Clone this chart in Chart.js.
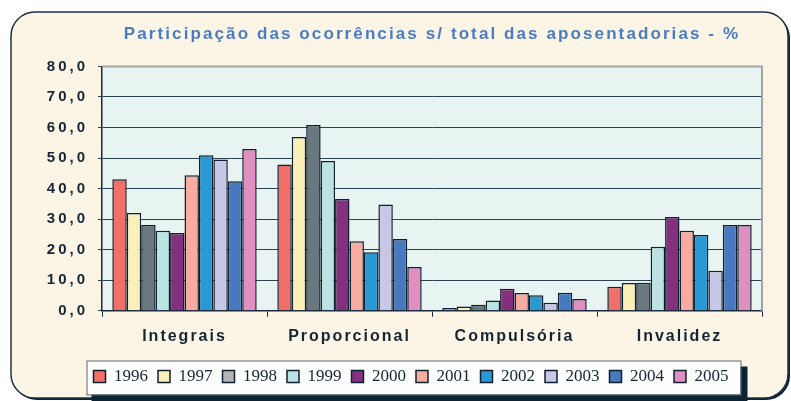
<!DOCTYPE html>
<html>
<head>
<meta charset="utf-8">
<script src="https://cdn.jsdelivr.net/npm/chart.js@4"></script>
<style>
  html, body { margin: 0; padding: 0; background: #ffffff; }
</style>
</head>
<body>
<canvas id="chart" width="791" height="401"></canvas>
<script>
// data (% of total retirements)
const categories = ['Integrais', 'Proporcional', 'Compulsória', 'Invalidez'];
const years = ['1996', '1997', '1998', '1999', '2000', '2001', '2002', '2003', '2004', '2005'];
const values1996 = [43.1, 47.9, 0.9, 7.9];
const values1997 = [32.0, 56.9, 1.4, 9.1];
const values1998 = [28.1, 60.8, 2.0, 9.2];
const values1999 = [26.2, 49.0, 3.4, 21.0];
const values2000 = [25.5, 36.6, 7.2, 30.7];
const values2001 = [44.4, 22.8, 5.8, 26.2];
const values2002 = [50.9, 19.2, 5.1, 24.8];
const values2003 = [49.5, 34.8, 2.6, 13.1];
const values2004 = [42.4, 23.5, 5.9, 28.1];
const values2005 = [53.0, 14.3, 3.9, 28.1];
const yTickLabels = ['0,0', '10,0', '20,0', '30,0', '40,0', '50,0', '60,0', '70,0', '80,0'];
const titleText = 'Participação das ocorrências s/ total das aposentadorias - %';

const seriesValues = [values1996, values1997, values1998, values1999, values2000,
  values2001, values2002, values2003, values2004, values2005];
const barColors = ['#f07068', '#fbf0b8', '#6b7880', '#bce2e4', '#85307f',
  '#f8aca0', '#2999d3', '#c8c8e6', '#4878bf', '#e090c0'];
// the legend swatch for 1998 is a lighter grey than its bars
const swatchColors = barColors.slice();
swatchColors[2] = '#b4b4b8';

const sansBold = '"Liberation Sans", Arial, sans-serif';
const ink = '#152535';

// letter spacing for the bold Arial-like texts, and no clipping of the y labels
const drawLabels = Chart.Scale.prototype.drawLabels;
Chart.Scale.prototype.drawLabels = function (area) {
  this.ctx.save();
  this.ctx.letterSpacing = this.axis === 'y' ? '3px' : '2px';
  drawLabels.call(this, area);
  this.ctx.restore();
};
Chart.Scale.prototype._computeLabelArea = function () { return undefined; };
const drawTitle = Chart.Title._element.prototype.draw;
Chart.Title._element.prototype.draw = function () {
  this.ctx.save();
  this.ctx.letterSpacing = '2.1px';
  drawTitle.call(this);
  this.ctx.restore();
};

const frame = {
  id: 'frame',
  beforeDraw(chart) {
    const { ctx, chartArea: a } = chart;
    ctx.save();
    // outer rounded panel
    ctx.fillStyle = '#0f2233';
    ctx.beginPath();
    ctx.roundRect(13, 14, 777, 386, 24);
    ctx.fill();
    ctx.fillStyle = '#fcf5e6';
    ctx.strokeStyle = '#1a3346';
    ctx.lineWidth = 1.5;
    ctx.beginPath();
    ctx.roundRect(11, 12, 777, 386, 24);
    ctx.fill();
    ctx.stroke();
    // plot background
    ctx.fillStyle = '#e8f4f1';
    ctx.fillRect(a.left, a.top, a.width, a.height);
    // legend box with shadow
    const hb = chart.legend.legendHitBoxes;
    if (hb && hb.length) {
      const first = hb[0];
      const last = hb[hb.length - 1];
      const cy = first.top + first.height / 2;
      const x0 = first.left - 7;
      const x1 = last.left + last.width + 12;
      const y0 = cy - 16;
      const y1 = cy + 18;
      ctx.fillStyle = '#0d2233';
      ctx.fillRect(x0 + 5, y0 + 6, x1 - x0 + 2, y1 - y0 + 6);
      ctx.fillStyle = '#fdfdfd';
      ctx.fillRect(x0, y0, x1 - x0, y1 - y0);
      ctx.strokeStyle = '#5a6870';
      ctx.lineWidth = 1;
      ctx.strokeRect(x0 + 0.5, y0 + 0.5, x1 - x0, y1 - y0);
    }
    ctx.restore();
  },
  beforeDatasetsDraw(chart) {
    const { ctx, chartArea: a } = chart;
    ctx.save();
    ctx.strokeStyle = '#a4a4a4';
    ctx.lineWidth = 2;
    ctx.beginPath();
    ctx.moveTo(a.left, a.top);
    ctx.lineTo(a.right, a.top);
    ctx.lineTo(a.right, a.bottom);
    ctx.stroke();
    ctx.restore();
  }
};

new Chart(document.getElementById('chart'), {
  type: 'bar',
  data: {
    labels: categories,
    datasets: years.map((year, i) => ({
      label: year,
      data: seriesValues[i],
      backgroundColor: barColors[i],
      borderColor: '#0f2030',
      borderWidth: 1.5,
      borderSkipped: 'start',
      categoryPercentage: 0.875,
      barPercentage: 1.0
    }))
  },
  options: {
    responsive: false,
    animation: false,
    devicePixelRatio: 1,
    layout: { padding: { left: 60, right: 29, top: 24, bottom: 6 } },
    plugins: {
      title: {
        display: true,
        text: titleText,
        color: '#4a7cc2',
        fullSize: false,
        font: { family: sansBold, size: 17, weight: 'bold' },
        padding: { top: 0, bottom: 22 }
      },
      legend: {
        position: 'bottom',
        labels: {
          color: ink,
          font: { family: '"Liberation Serif", "Times New Roman", serif', size: 17 },
          boxWidth: 12,
          boxHeight: 12,
          padding: 10,
          generateLabels(chart) {
            const items = Chart.defaults.plugins.legend.labels.generateLabels(chart);
            items.forEach((item, i) => {
              item.fillStyle = swatchColors[i];
              item.strokeStyle = '#0f2030';
              item.lineWidth = 1.5;
            });
            return items;
          }
        }
      },
      tooltip: { enabled: false }
    },
    scales: {
      x: {
        afterFit(scale) { scale.height += 2; },
        grid: { drawOnChartArea: false, offset: true, tickLength: 6, color: '#1a2a3a' },
        border: { color: '#1a2a3a', width: 1.5 },
        ticks: { color: ink, padding: 10, font: { family: sansBold, size: 16, weight: 'bold' } }
      },
      y: {
        min: 0,
        max: 80,
        afterFit(scale) { scale.width = 42; },
        grid: { color: '#2b4252', tickLength: 4 },
        border: { color: '#1a2a3a', width: 1.5 },
        ticks: {
          stepSize: 10,
          color: ink,
          padding: 10,
          font: { family: sansBold, size: 15, weight: 'bold' },
          callback: (value, index) => yTickLabels[index]
        }
      }
    }
  },
  plugins: [frame]
});
</script>
</body>
</html>
